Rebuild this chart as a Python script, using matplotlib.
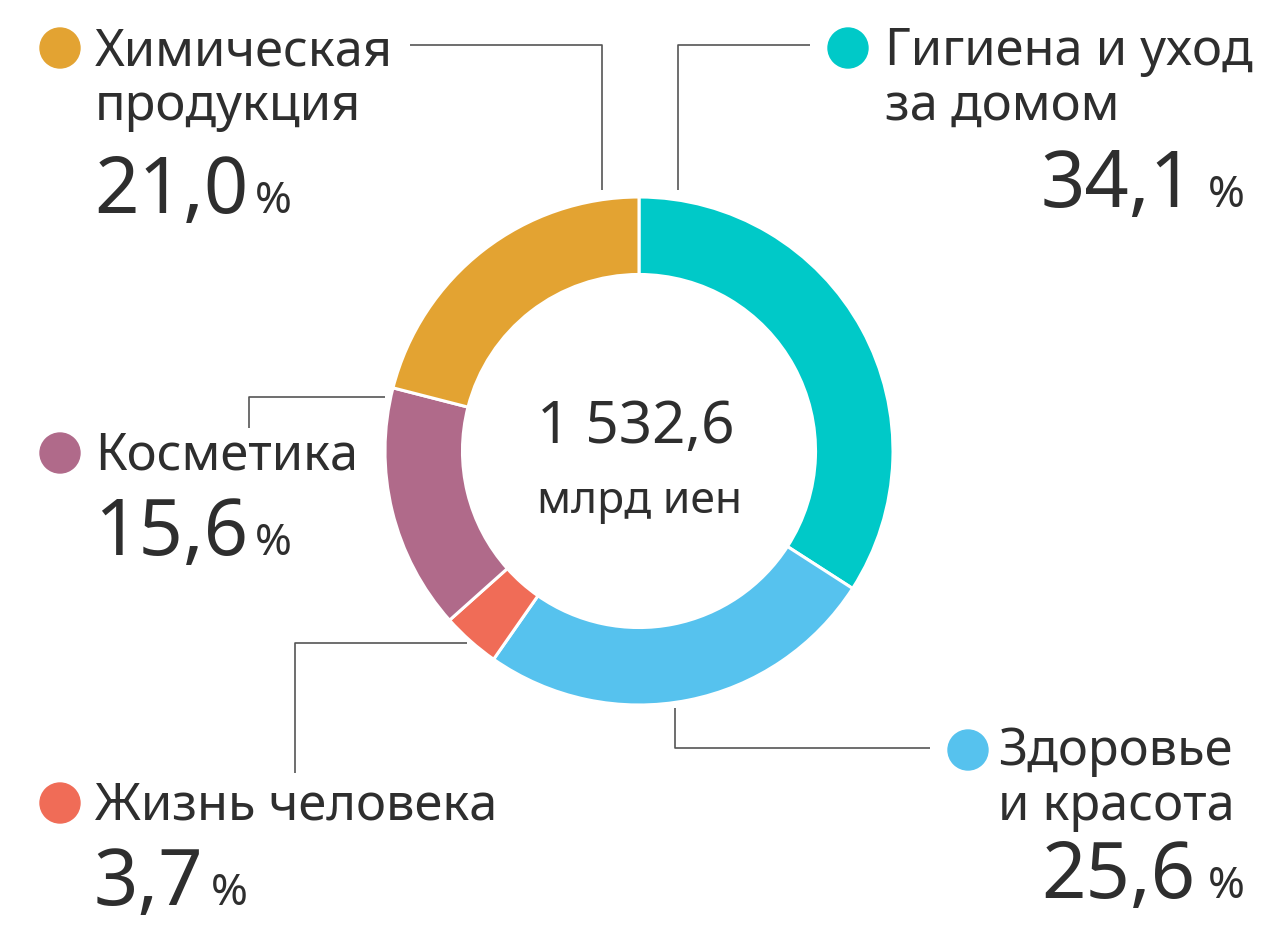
import matplotlib
matplotlib.use("Agg")
import matplotlib.pyplot as plt

# ---- data (clockwise from 12 o'clock) ----
categories = ["Гигиена и уход\nза домом", "Здоровье\nи красота", "Жизнь человека",
              "Косметика", "Химическая\nпродукция"]
shares = [34.1, 25.6, 3.7, 15.6, 21.0]
colors = ["#00C9C8", "#56C2EE", "#F06C57", "#B06A8A", "#E3A332"]
total_value = 1532.6
total_unit = "млрд иен"

TXT = "#2E2E2E"
LINE = "#555555"
FONT = "Noto Sans"

W, H = 1280, 936
fig = plt.figure(figsize=(W / 100, H / 100), dpi=100)
fig.patch.set_facecolor("white")

# overlay axes in pixel coordinates (y down)
ax = fig.add_axes([0, 0, 1, 1])
ax.set_xlim(0, W)
ax.set_ylim(H, 0)
ax.axis("off")

# donut axes
cx, cy, R = 639, 451, 254
pax = fig.add_axes([(cx - R) / W, (H - cy - R) / H, 2 * R / W, 2 * R / H])
pax.pie(shares, colors=colors, startangle=90, counterclock=False, radius=1,
        wedgeprops=dict(width=0.305, edgecolor="white", linewidth=2.2))
pax.set_xlim(-1, 1)
pax.set_ylim(-1, 1)
pax.axis("off")

# center text
tv = "{:,.1f}".format(total_value).replace(",", " ").replace(".", ",")
ax.text(636, 443, tv, fontsize=42, family=FONT, color=TXT, ha="center", va="baseline")
ax.text(640, 513, total_unit, fontsize=32, family=FONT, color=TXT, ha="center", va="baseline")

# leader lines (pixel polylines)
leaders = [
    [(810, 45), (678, 45), (678, 190)],
    [(930, 748), (675, 748), (675, 708)],
    [(467, 643), (295, 643), (295, 773)],
    [(385, 397), (249, 397), (249, 428)],
    [(410, 45), (602, 45), (602, 190)],
]
for pts in leaders:
    xs, ys = zip(*pts)
    ax.plot(xs, ys, color=LINE, lw=1.2, solid_capstyle="butt")

# label layout: (dot center, text x, first baseline, number baseline, align, number x)
layout = [
    ((848, 48), 887, 65, 207, "right", 1245),
    ((968, 750), 1000, 765, 898, "right", 1245),
    ((60, 803), 97, 820, 905, "left", 97),
    ((60, 453), 97, 470, 555, "left", 97),
    ((60, 48), 97, 65, 213, "left", 97),
]

fig.canvas.draw()
renderer = fig.canvas.get_renderer()
inv = ax.transData.inverted()

LAB_FS = 36.5
NUM_FS = 56
PCT_FS = 32
GAP = 7

for cat, val, col, (dot, tx, b1, bn, align, nx) in zip(categories, shares, colors, layout):
    ax.add_patch(plt.Circle(dot, 20, color=col, transform=ax.transData))
    for i, line in enumerate(cat.split("\n")):
        ax.text(tx - 2, b1 + i * 55, line, fontsize=LAB_FS, family=FONT, color=TXT,
                ha="left", va="baseline")
    num = "{:.1f}".format(val).replace(".", ",")
    if align == "left":
        t = ax.text(nx - 3, bn, num, fontsize=NUM_FS, family=FONT, color=TXT,
                    ha="left", va="baseline")
        bb = t.get_window_extent(renderer)
        x1 = inv.transform((bb.x1, bb.y0))[0]
        ax.text(x1 + GAP, bn, "%", fontsize=PCT_FS, family=FONT, color=TXT,
                ha="left", va="baseline")
    else:
        p = ax.text(nx, bn, "%", fontsize=PCT_FS, family=FONT, color=TXT,
                    ha="right", va="baseline")
        bb = p.get_window_extent(renderer)
        x0 = inv.transform((bb.x0, bb.y0))[0]
        ax.text(x0 - GAP - 6, bn, num, fontsize=NUM_FS, family=FONT, color=TXT,
                ha="right", va="baseline")

fig.savefig("out.png", dpi=100, facecolor="white")
